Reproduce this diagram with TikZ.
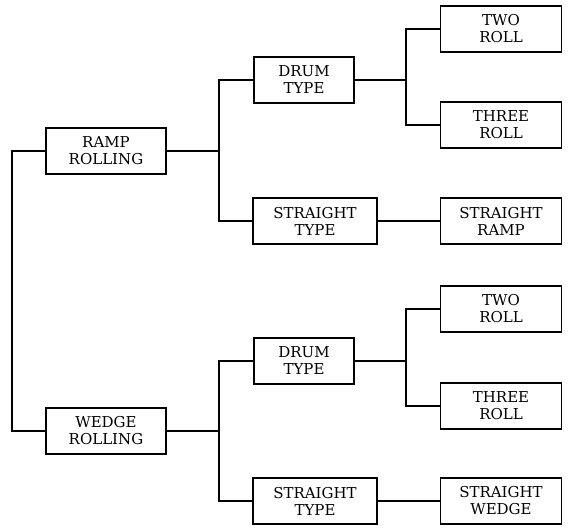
\documentclass[tikz,border=0pt]{standalone}
\usepackage{fontspec}
\setmainfont{DejaVu Serif}
\tikzset{
 stagebox/.style={draw=black, line width=1.3pt, minimum height=46pt, inner sep=1pt,
  align=center, font=\fontsize{15}{17}\selectfont},
 link/.style={draw=black, line width=1.3pt}
}
\newcommand{\stage}[4]{%
 \node[stagebox, minimum width={#3}] ({#1}) at ({#2}) {#4};%
}

\begin{document}
\begin{tikzpicture}[x=1pt,y=-1pt]
   \useasboundingbox (0,0) rectangle (569,527);
   \stage{ramp}{106,151}{120pt}{RAMP\\ROLLING};
   \stage{wedge}{106,431}{120pt}{WEDGE\\ROLLING};
   \stage{drumA}{304,80}{100pt}{DRUM\\TYPE};
   \stage{strA}{315,221}{124pt}{STRAIGHT\\TYPE};
   \stage{drumB}{304,361}{100pt}{DRUM\\TYPE};
   \stage{strB}{315,501}{124pt}{STRAIGHT\\TYPE};
   \stage{twoA}{501,29}{121pt}{TWO\\ROLL};
   \stage{threeA}{501,125}{121pt}{THREE\\ROLL};
   \stage{sramp}{501,221}{121pt}{STRAIGHT\\RAMP};
   \stage{twoB}{501,309}{121pt}{TWO\\ROLL};
   \stage{threeB}{501,406}{121pt}{THREE\\ROLL};
   \stage{swedge}{501,501}{121pt}{STRAIGHT\\WEDGE};
   % junction points
   \coordinate (trunk) at (12,151);
   \coordinate (jA) at (219,151);
   \coordinate (jB) at (219,431);
   \coordinate (jC) at (406,80);
   \coordinate (jD) at (406,361);
   \draw[link] (ramp.west) -- (trunk) |- (wedge.west);
   \draw[link] (ramp.east) -- (jA);
   \draw[link] (jA) |- (drumA.west);
   \draw[link] (jA) |- (strA.west);
   \draw[link] (wedge.east) -- (jB);
   \draw[link] (jB) |- (drumB.west);
   \draw[link] (jB) |- (strB.west);
   \draw[link] (drumA.east) -- (jC);
   \draw[link] (jC) |- (twoA.west);
   \draw[link] (jC) |- (threeA.west);
   \draw[link] (drumB.east) -- (jD);
   \draw[link] (jD) |- (twoB.west);
   \draw[link] (jD) |- (threeB.west);
   \draw[link] (strA) -- (sramp);
   \draw[link] (strB) -- (swedge);
\end{tikzpicture}
\end{document}
